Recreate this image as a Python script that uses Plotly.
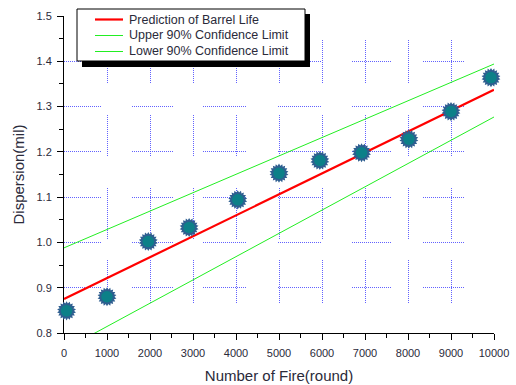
import plotly.graph_objects as go

# ---- data ----
rounds = [60, 1000, 1960, 2910, 4040, 5000, 5950, 6920, 8020, 9000, 9930]
dispersion = [0.849, 0.880, 1.002, 1.033, 1.094, 1.153, 1.181, 1.198, 1.228, 1.289, 1.364]

fit_x = [0, 10000]
fit_pred = [0.875, 1.337]
fit_upper = [0.988, 1.394]
fit_lower = [0.763, 1.277]

legend_names = ["Prediction of Barrel Life",
                "Upper 90% Confidence Limit",
                "Lower 90% Confidence Limit"]

FONT = "Liberation Sans, Arial, sans-serif"
TXT = "#2a2a3a"
GRID = "rgba(70,70,255,0.85)"
RED = "#ff0000"
GREEN = "#22ee22"

W, H = 516, 385
ML, MR, MT, MB = 64, 22, 16, 52
PW, PH = W - ML - MR, H - MT - MB


def px(x):
    return (x - ML) / PW


def py(y):
    return (H - MB - y) / PH


def dash_from(intervals, dot=1, gap=1):
    parts = []
    pos = 0
    for a, b in intervals:
        off = a - pos
        if not parts:
            parts += [0, off]
        else:
            parts[-1] += off
        n = int((b - a) / (dot + gap))
        for _ in range(n):
            parts += [dot, gap]
        pos = a + n * (dot + gap)
    parts[-1] += 2000
    return ",".join(f"{p}px" for p in parts)


h_dash = dash_from([(0, 39), (68, 111), (139, 183), (214, 258), (288, 329), (359, 401)])
v_dash = dash_from([(24, 69), (99, 141), (172, 225), (244, 289)])

fig = go.Figure()

series_styles = [(fit_pred, RED, 2.2), (fit_upper, GREEN, 1), (fit_lower, GREEN, 1)]
for (yy, col, wd), nm in zip(series_styles, legend_names):
    fig.add_trace(go.Scatter(x=fit_x, y=yy, mode="lines", name=nm, showlegend=False,
                             line=dict(color=col, width=wd)))

# spiky burst markers (layered)
for ang in (0, 20, 40):
    fig.add_trace(go.Scatter(x=rounds, y=dispersion, mode="markers", showlegend=False,
                             cliponaxis=False, hoverinfo="skip",
                             marker=dict(symbol="hexagram", size=14.5, angle=ang,
                                         color="#2f5f90", line=dict(width=0))))
fig.add_trace(go.Scatter(x=rounds, y=dispersion, mode="markers", showlegend=False,
                         cliponaxis=False,
                         marker=dict(symbol="circle", size=11.5, color="#0c8088",
                                     line=dict(width=0))))

# ---- legend box drawn like the original (box + drop shadow) ----
shapes = [
    dict(type="rect", xref="paper", yref="paper",
         x0=px(82), x1=px(310), y0=py(67), y1=py(14),
         fillcolor="black", line=dict(width=0), layer="above"),
    dict(type="rect", xref="paper", yref="paper",
         x0=px(77), x1=px(305), y0=py(61), y1=py(9),
         fillcolor="white", line=dict(color="black", width=1), layer="above"),
]
annotations = []
row_y = [19.5, 35.5, 51.5]
for (yy, col, wd), nm, ry in zip(series_styles, legend_names, row_y):
    shapes.append(dict(type="line", xref="paper", yref="paper",
                       x0=px(95), x1=px(123), y0=py(ry), y1=py(ry),
                       line=dict(color=col, width=wd), layer="above"))
    annotations.append(dict(text=nm, xref="paper", yref="paper",
                            x=px(127), y=py(ry), xanchor="left", yanchor="middle",
                            showarrow=False,
                            font=dict(family=FONT, size=12.5, color=TXT)))

fig.update_layout(
    width=W, height=H,
    margin=dict(l=ML, r=MR, t=MT, b=MB, autoexpand=False),
    paper_bgcolor="white", plot_bgcolor="white",
    font=dict(family=FONT, size=11, color=TXT),
    showlegend=False,
    shapes=shapes,
    annotations=annotations,
)

fig.update_xaxes(range=[0, 10000], dtick=1000, tick0=0, tickformat="d",
                 automargin=False,
                 showline=True, linecolor="black", linewidth=1,
                 ticks="outside", ticklen=6, tickcolor="black",
                 ticklabelstandoff=4,
                 minor=dict(dtick=500, ticks="outside", ticklen=4, tickcolor="black", showgrid=False),
                 showgrid=True, gridcolor=GRID, gridwidth=1, griddash=v_dash,
                 zeroline=False, layer="below traces",
                 tickfont=dict(size=11, color=TXT),
                 title=dict(text="Number of Fire(round)", font=dict(size=15, color=TXT), standoff=12))
fig.update_yaxes(range=[0.8, 1.5], dtick=0.1, tick0=0.8, tickformat=".1f",
                 automargin=False,
                 showline=True, linecolor="black", linewidth=1,
                 ticks="outside", ticklen=6, tickcolor="black",
                 ticklabelstandoff=3,
                 minor=dict(dtick=0.05, ticks="outside", ticklen=4, tickcolor="black", showgrid=False),
                 showgrid=True, gridcolor=GRID, gridwidth=1, griddash=h_dash,
                 zeroline=False, layer="below traces",
                 tickfont=dict(size=11, color=TXT),
                 title=dict(text="Dispersion(mil)", font=dict(size=15, color=TXT), standoff=8))

fig.write_html("out.html")
